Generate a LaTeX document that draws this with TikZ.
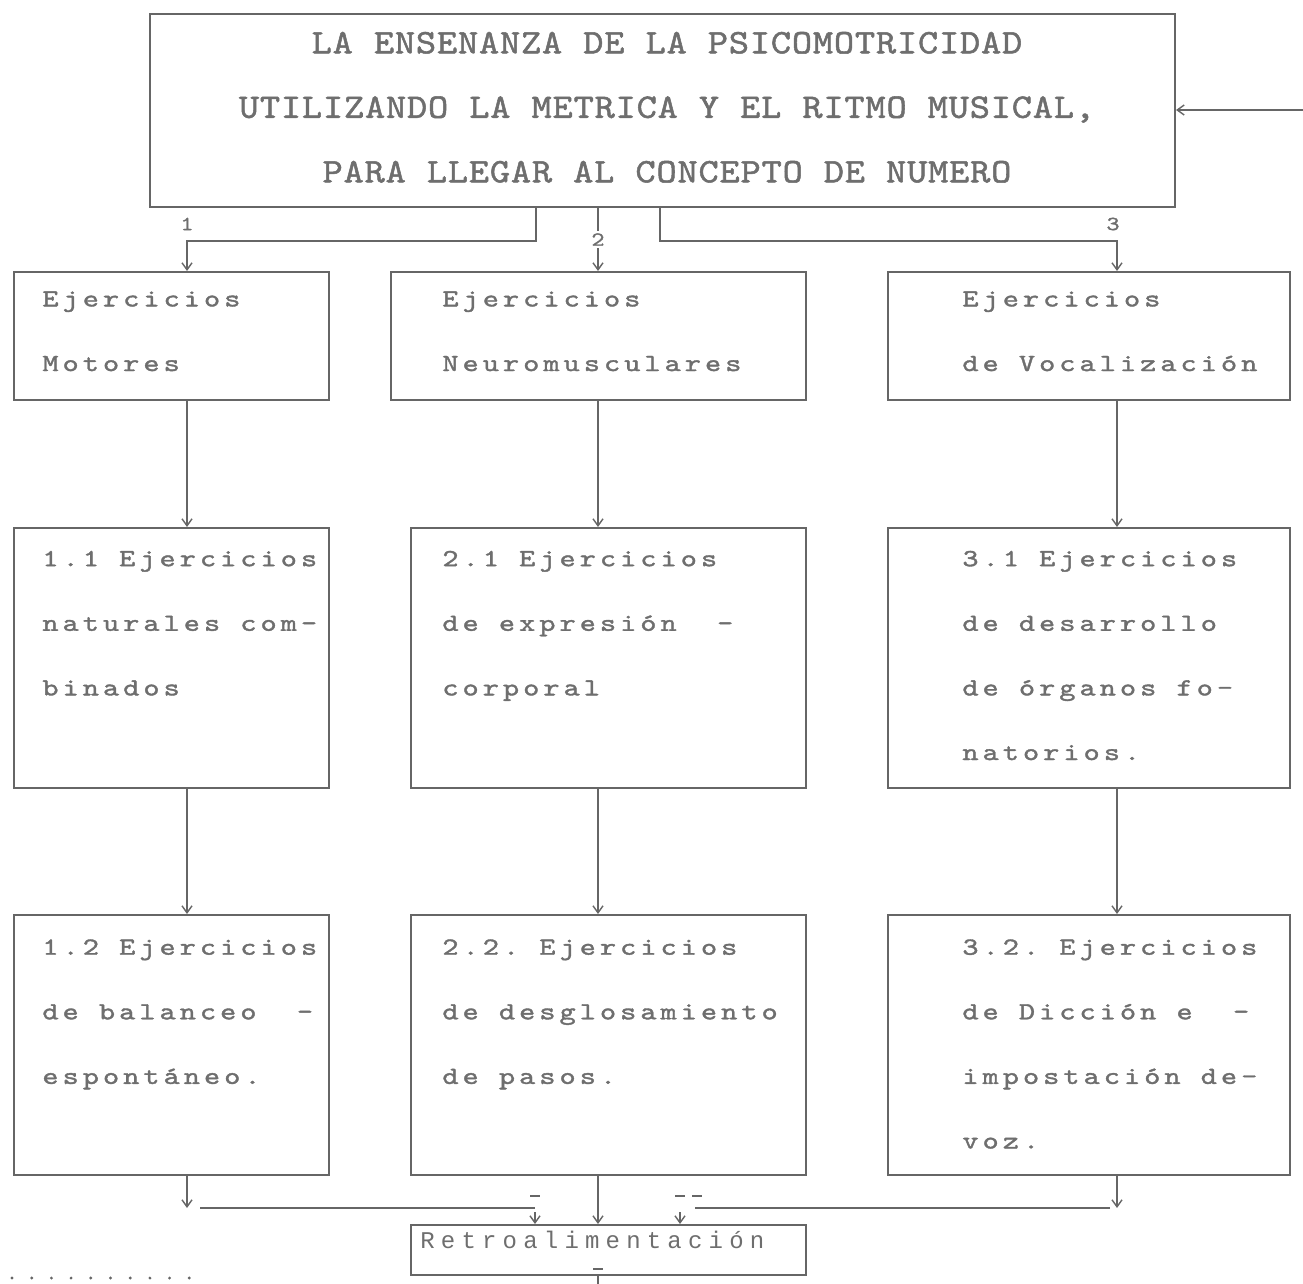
\documentclass[tikz,border=0pt]{standalone}
\usepackage{fontspec}
\usepackage{xcolor}
\usetikzlibrary{arrows.meta,calc,fit}
\newfontfamily\headfont{lmmono10-regular.otf}[FakeStretch=1.12,FakeBold=1.5,LetterSpace=2.3]
\newfontfamily\boxfont{lmmono10-regular.otf}[FakeStretch=1.25,FakeBold=1.5,LetterSpace=16.5]
\newfontfamily\retrofont{Liberation Mono}[LetterSpace=25.8]
\definecolor{ink}{HTML}{666666}
\definecolor{type}{HTML}{6E6E6E}
\tikzset{
  box/.style={draw=ink,line width=1pt,inner sep=0pt},
  head/.style={text=type,inner sep=0pt,anchor=north,align=center,
    font=\headfont\fontsize{17.2}{32.25}\selectfont\frenchspacing,
    execute at begin node=\rule{0pt}{14pt}},
  txt/.style={text=type,inner sep=0pt,anchor=north west,align=left,
    font=\boxfont\fontsize{12.3}{32.3}\selectfont\frenchspacing,
    execute at begin node=\rule{0pt}{10pt}},
  num/.style={text=type,inner sep=1pt,font=\boxfont\fontsize{10}{11}\selectfont},
  link/.style={draw=ink,line width=0.7pt},
  arr/.style={link,-{Straight Barb[length=3.5pt,width=5pt]}}
}

\begin{document}
\begin{tikzpicture}[x=0.5pt,y=-0.5pt]
\useasboundingbox (0,0) rectangle (1303,1284);
% columns of the connectors
\coordinate (colA) at (187,0);
\coordinate (colB) at (598,0);
\coordinate (colC) at (1117,0);
\coordinate (forkL) at (536,0);
\coordinate (forkR) at (660,0);

% boxes
\node[box,fit={(150,14) (1175,207)}] (top) {};
\node[box,fit={(14,272) (329,400)}] (a1) {};
\node[box,fit={(391,272) (806,400)}] (b1) {};
\node[box,fit={(888,272) (1290,400)}] (c1) {};
\node[box,fit={(14,528) (329,788)}] (a2) {};
\node[box,fit={(411,528) (806,788)}] (b2) {};
\node[box,fit={(888,528) (1290,788)}] (c2) {};
\node[box,fit={(14,915) (329,1175)}] (a3) {};
\node[box,fit={(411,915) (806,1175)}] (b3) {};
\node[box,fit={(888,915) (1290,1175)}] (c3) {};
\node[box,fit={(411,1225) (806,1275)}] (retro) {};

% texts
\node[head] (title) at (667,31.5) {LA ENSENANZA DE LA PSICOMOTRICIDAD\\UTILIZANDO LA METRICA Y EL RITMO MUSICAL,\\PARA LLEGAR AL CONCEPTO DE NUMERO};
\node[txt] (ta1) at (42,291) {Ejercicios\\Motores};
\node[txt] (tb1) at (442,291) {Ejercicios\\Neuromusculares};
\node[txt] (tc1) at (962,291) {Ejercicios\\de Vocalización};
\node[txt] (ta2) at (42,550.5) {1.1 Ejercicios\\naturales com-\\binados};
\node[txt] (tb2) at (442,550.5) {2.1 Ejercicios\\de expresión\ \ -\\corporal};
\node[txt] (tc2) at (962,550.5) {3.1 Ejercicios\\de desarrollo\\de órganos fo-\\natorios.};
\node[txt] (ta3) at (42,939) {1.2 Ejercicios\\de balanceo\ \ -\\espontáneo.};
\node[txt] (tb3) at (442,939) {2.2. Ejercicios\\de desglosamiento\\de pasos.};
\node[txt] (tc3) at (962,939) {3.2. Ejercicios\\de Dicción e\ \ -\\impostación de-\\voz.};
\node[text=type,inner sep=0pt,anchor=base west,font=\retrofont\fontsize{12}{13}\selectfont] (rt) at (420,1248) {Retroalimentación};
\node[num] (n1) at (187,224) {1};
\node[num] (n3) at (1113,224) {3};

% from the title to the three branches
\draw[arr] (top.south -| forkL) -- ++(0,33) -| (a1.north -| colA);
\draw[arr] (top.south -| colB) -- node[num,fill=white] (n2) {2} (b1.north -| colB);
\draw[arr] (top.south -| forkR) -- ++(0,33) -| (c1.north -| colC);
\foreach \c/\x in {a/colA,b/colB,c/colC} {
  \draw[arr] (\c1.south -| \x) -- (\c2.north -| \x);
  \draw[arr] (\c2.south -| \x) -- (\c3.north -| \x);
}

% into the feedback box
\coordinate (jL) at (535,1208);
\coordinate (jR) at (680,1208);
\draw[arr] (a3.south -| colA) -- (colA |- jL);
\draw[link] ($(colA |- jL)+(13,0)$) -- (jL);
\draw[link] ($(jL)+(-5,-12)$) -- ++(10,0);
\draw[arr] ($(jL)+(0,4)$) -- (retro.north -| jL);
\draw[arr] (b3.south -| colB) -- (retro.north -| colB);
\draw[arr] (c3.south -| colC) -- (colC |- jR);
\draw[link] ($(colC |- jR)+(-7,0)$) -- ($(jR)+(15,0)$);
\draw[link] ($(jR)+(-5,-12)$) -- ++(10,0) ++(7,0) -- ++(10,0);
\draw[arr] ($(jR)+(0,4)$) -- (retro.north -| jR);
\draw[link] ($(retro.south -| colB)+(-5,-7)$) -- ++(10,0);
\draw[link] (retro.south -| colB) -- ++(0,20);

% feedback coming back into the title
\coordinate (back) at (1310,110);
\draw[arr] (back) -- (top.east |- back);

\foreach \i in {0,...,9} \fill[ink] (12+19.7*\i,1278) circle (1.6);
\end{tikzpicture}
\end{document}
